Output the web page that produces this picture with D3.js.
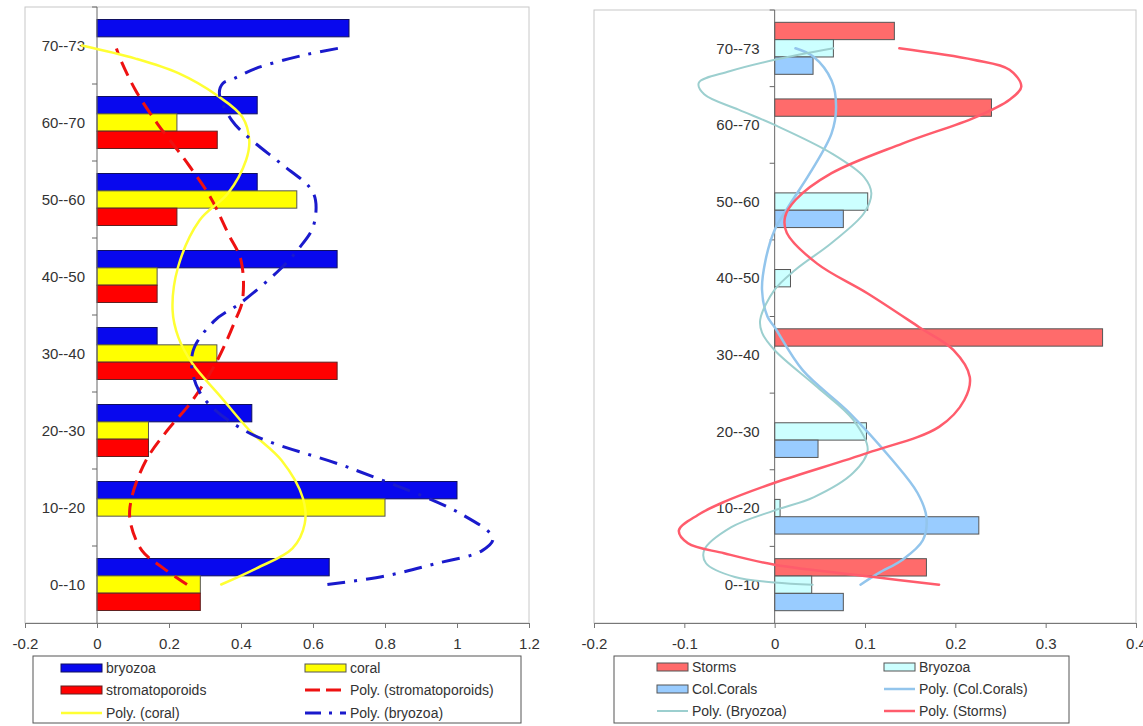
<!DOCTYPE html>
<html>
<head>
<meta charset="utf-8">
<script src="https://cdn.jsdelivr.net/npm/d3@7"></script>
<style>
  body { margin: 0; background: #fff; }
  svg text { font-family: "Liberation Sans", Arial, sans-serif; fill: #333; }
</style>
</head>
<body>
<script>
// categories, bottom to top
let categories = ["0--10", "10--20", "20--30", "30--40", "40--50", "50--60", "60--70", "70--73"];

// left chart
let leftTicks = [-0.2, 0, 0.2, 0.4, 0.6, 0.8, 1, 1.2];
let bryozoa = [0.645, 1.0, 0.43, 0.167, 0.667, 0.445, 0.445, 0.70];
let coral = [0.287, 0.80, 0.143, 0.333, 0.167, 0.555, 0.222, 0];
let stromatoporoids = [0.287, 0, 0.143, 0.667, 0.167, 0.222, 0.334, 0];

// trendlines: [category position, value]
let polyStrom = [[1.0,0.25],[1.21,0.185],[1.44,0.125],[1.83,0.092],[2.12,0.096],[2.61,0.136],[3.0,0.195],[3.39,0.265],[3.91,0.334],[4.43,0.384],[4.69,0.404],[5.21,0.40],[5.56,0.364],[6.03,0.315],[6.51,0.245],[6.99,0.167],[7.42,0.107],[7.81,0.066],[7.96,0.054]];
let polyCoral = [[1.0,0.345],[1.21,0.443],[1.47,0.543],[1.79,0.577],[2.12,0.572],[2.61,0.513],[3.0,0.424],[3.43,0.345],[3.87,0.265],[4.21,0.226],[4.56,0.21],[5.12,0.225],[5.73,0.285],[6.08,0.364],[6.51,0.414],[6.77,0.423],[7.07,0.404],[7.35,0.334],[7.64,0.226],[7.83,0.107],[8.0,-0.042]];
let polyBryozoa = [[1.0,0.64],[1.11,0.80],[1.27,0.94],[1.44,1.07],[1.6,1.10],[1.92,1.01],[2.5,0.71],[3.0,0.41],[3.5,0.285],[4.0,0.265],[4.42,0.325],[4.66,0.40],[5.10,0.51],[5.36,0.56],[5.64,0.60],[5.99,0.607],[6.16,0.59],[6.47,0.51],[6.81,0.42],[7.03,0.374],[7.38,0.34],[7.51,0.35],[7.57,0.38],[7.70,0.44],[7.87,0.57],[7.98,0.69]];

// right chart
let rightTicks = [-0.2, -0.1, 0, 0.1, 0.2, 0.3, 0.4];
let storms = [0.168, 0, 0, 0.363, 0, 0, 0.240, 0.1325];
let bryozoaR = [0.041, 0.006, 0.1016, 0, 0.0175, 0.103, 0, 0.065];
let colCorals = [0.076, 0.226, 0.048, 0, 0, 0.076, 0, 0.0425];

let polyStorms = [[1.0,0.182],[1.10,0.11],[1.26,0.0],[1.41,-0.056],[1.54,-0.096],[1.71,-0.106],[1.91,-0.085],[2.08,-0.056],[2.33,0],[2.72,0.103],[3.06,0.182],[3.41,0.21],[3.71,0.216],[4.06,0.198],[4.36,0.16],[4.80,0.103],[5.19,0.047],[5.59,0.0135],[5.80,0.0115],[6.02,0.023],[6.37,0.063],[6.76,0.142],[7.10,0.222],[7.33,0.26],[7.50,0.273],[7.72,0.26],[7.85,0.22],[8.0,0.138]];
let polyBryozoaR = [[1.0,0.042],[1.03,0.0],[1.10,-0.044],[1.28,-0.076],[1.45,-0.078],[1.75,-0.048],[1.97,0],[2.14,0.043],[2.46,0.087],[2.76,0.103],[3.15,0.087],[3.58,0.047],[4.06,0],[4.29,-0.014],[4.46,-0.016],[4.85,0],[5.11,0.023],[5.46,0.063],[5.85,0.099],[6.11,0.107],[6.32,0.099],[6.63,0.063],[7.0,0],[7.2,-0.04],[7.4,-0.078],[7.55,-0.084],[7.7,-0.05],[7.85,0],[8.0,0.065]];
let polyCorals = [[1.0,0.095],[1.15,0.115],[1.33,0.142],[1.58,0.164],[1.88,0.168],[2.20,0.158],[2.63,0.13],[3.24,0.083],[3.80,0.031],[4.36,0],[4.50,-0.008],[4.85,-0.014],[5.24,-0.01],[5.63,0],[5.93,0.015],[6.37,0.039],[6.89,0.063],[7.23,0.068],[7.58,0.063],[7.89,0.043],[8.0,0.023]];

let w = 1143;
let h = 726;
let svg = d3.select("body").append("svg").attr("width", w).attr("height", h);

let fmt = (d) => String(+d.toFixed(1));

function drawPanel(p) {
  let g = svg.append("g");
  let x = d3.scaleLinear().domain(p.xDomain).range([p.left, p.right]);
  let y0 = d3.scaleBand().domain(categories.slice().reverse()).range([p.top, p.bottom]);
  let bw = y0.bandwidth();
  let y1 = d3.scaleBand()
    .domain(p.bars.map((s) => s.name))
    .range([(bw - p.groupH) / 2, (bw + p.groupH) / 2]);
  let yT = d3.scaleLinear()
    .domain([1, categories.length])
    .range([y0(categories[0]) + bw / 2, y0(categories[categories.length - 1]) + bw / 2]);

  // plot frame
  g.append("rect")
    .attr("x", p.left).attr("y", p.top)
    .attr("width", p.right - p.left).attr("height", p.bottom - p.top)
    .attr("fill", "none").attr("stroke", "#c8c8c8");

  // bars
  p.bars.forEach((s) => {
    let rows = s.values.map((v, i) => ({ v: v, c: categories[i] })).filter((d) => d.v > 0);
    g.selectAll(null)
      .data(rows)
      .enter()
      .append("rect")
      .attr("x", x(0))
      .attr("y", (d) => y0(d.c) + y1(s.name))
      .attr("width", (d) => x(d.v) - x(0))
      .attr("height", y1.bandwidth())
      .attr("fill", s.color)
      .attr("stroke", s.stroke)
      .attr("stroke-width", 1);
  });

  // x axis
  let ax = g.append("g")
    .attr("transform", `translate(0,${p.bottom})`)
    .call(d3.axisBottom(x).tickValues(p.ticks).tickSize(5).tickSizeOuter(0).tickPadding(10).tickFormat(fmt));
  ax.select(".domain").attr("stroke", "#777");
  ax.selectAll(".tick line").attr("stroke", "#777");
  ax.selectAll(".tick text").attr("font-size", 15).attr("fill", "#444");

  // y axis line, boundary ticks, category labels
  g.append("line")
    .attr("x1", x(0)).attr("x2", x(0))
    .attr("y1", p.top).attr("y2", p.bottom)
    .attr("stroke", "#666");
  g.selectAll(null)
    .data(d3.range(categories.length))
    .enter()
    .append("line")
    .attr("x1", x(0) - 5).attr("x2", x(0))
    .attr("y1", (i) => p.top + i * bw).attr("y2", (i) => p.top + i * bw)
    .attr("stroke", "#666");
  g.selectAll(null)
    .data(categories)
    .enter()
    .append("text")
    .attr("x", x(0) - p.labelPad)
    .attr("y", (d) => y0(d) + bw / 2)
    .attr("dy", "0.35em")
    .attr("text-anchor", "end")
    .attr("font-size", 15)
    .attr("fill", "#444")
    .text((d) => d);

  // trendlines
  let line = d3.line()
    .x((d) => x(d[1]))
    .y((d) => yT(d[0]))
    .curve(d3.curveCatmullRom.alpha(0.5));
  p.trends.forEach((t) => {
    g.append("path")
      .attr("d", line(t.points))
      .attr("fill", "none")
      .attr("stroke", t.color)
      .attr("stroke-width", t.width)
      .attr("stroke-dasharray", t.dash || null)
      .attr("stroke-linecap", t.dash ? "butt" : "round");
  });

  // legend
  let L = p.legend;
  g.append("rect")
    .attr("x", L.x).attr("y", L.y).attr("width", L.w).attr("height", L.h)
    .attr("fill", "#fff").attr("stroke", "#555");
  L.items.forEach((it) => {
    let sx = L.cols[it.col];
    let sy = L.rows[it.row];
    if (it.type === "rect") {
      g.append("rect")
        .attr("x", sx).attr("y", sy - 4).attr("width", L.sw).attr("height", 8)
        .attr("fill", it.color).attr("stroke", it.stroke);
    } else {
      g.append("line")
        .attr("x1", sx).attr("x2", sx + L.sw).attr("y1", sy).attr("y2", sy)
        .attr("stroke", it.color).attr("stroke-width", it.width)
        .attr("stroke-dasharray", it.dash || null);
    }
    g.append("text")
      .attr("x", sx + L.sw + 4).attr("y", sy).attr("dy", "0.36em")
      .attr("font-size", 14)
      .text(it.label);
  });
}

drawPanel({
  xDomain: [-0.2, 1.2], ticks: leftTicks,
  left: 25, right: 529, top: 7, bottom: 623,
  groupH: 52, labelPad: 12,
  bars: [
    { name: "bryozoa", values: bryozoa, color: "#0808ee", stroke: "#101060" },
    { name: "coral", values: coral, color: "#ffff00", stroke: "#555" },
    { name: "stromatoporoids", values: stromatoporoids, color: "#ff0000", stroke: "#602020" }
  ],
  trends: [
    { points: polyStrom, color: "#ee1111", width: 3, dash: "15,8" },
    { points: polyCoral, color: "#ffff33", width: 2.5 },
    { points: polyBryozoa, color: "#1a1acc", width: 3, dash: "18,9,3,9" }
  ],
  legend: {
    x: 33, y: 656, w: 488, h: 67, sw: 41,
    cols: [61, 305], rows: [668, 690, 713],
    items: [
      { col: 0, row: 0, type: "rect", color: "#0808ee", stroke: "#101060", label: "bryozoa" },
      { col: 1, row: 0, type: "rect", color: "#ffff00", stroke: "#555", label: "coral" },
      { col: 0, row: 1, type: "rect", color: "#ff0000", stroke: "#602020", label: "stromatoporoids" },
      { col: 1, row: 1, type: "line", color: "#ee1111", width: 3, dash: "15,6", label: "Poly. (stromatoporoids)" },
      { col: 0, row: 2, type: "line", color: "#ffff33", width: 2.5, label: "Poly. (coral)" },
      { col: 1, row: 2, type: "line", color: "#1a1acc", width: 3, dash: "16,8,3,8", label: "Poly. (bryozoa)" }
    ]
  }
});

drawPanel({
  xDomain: [-0.2, 0.4], ticks: rightTicks,
  left: 594, right: 1136, top: 10, bottom: 623,
  groupH: 52, labelPad: 15,
  bars: [
    { name: "Storms", values: storms, color: "#ff6b6b", stroke: "#555" },
    { name: "Bryozoa", values: bryozoaR, color: "#ccffff", stroke: "#555" },
    { name: "Col.Corals", values: colCorals, color: "#99ccff", stroke: "#555" }
  ],
  trends: [
    { points: polyCorals, color: "#93c5ec", width: 2.5 },
    { points: polyBryozoaR, color: "#9ccfcf", width: 2 },
    { points: polyStorms, color: "#ff5c6c", width: 2.5 }
  ],
  legend: {
    x: 614, y: 656, w: 455, h: 67, sw: 31,
    cols: [657, 884], rows: [667, 689, 711],
    items: [
      { col: 0, row: 0, type: "rect", color: "#ff6b6b", stroke: "#555", label: "Storms" },
      { col: 1, row: 0, type: "rect", color: "#ccffff", stroke: "#555", label: "Bryozoa" },
      { col: 0, row: 1, type: "rect", color: "#99ccff", stroke: "#555", label: "Col.Corals" },
      { col: 1, row: 1, type: "line", color: "#93c5ec", width: 2.5, label: "Poly. (Col.Corals)" },
      { col: 0, row: 2, type: "line", color: "#9ccfcf", width: 2, label: "Poly. (Bryozoa)" },
      { col: 1, row: 2, type: "line", color: "#ff5c6c", width: 2.5, label: "Poly. (Storms)" }
    ]
  }
});
</script>
</body>
</html>
